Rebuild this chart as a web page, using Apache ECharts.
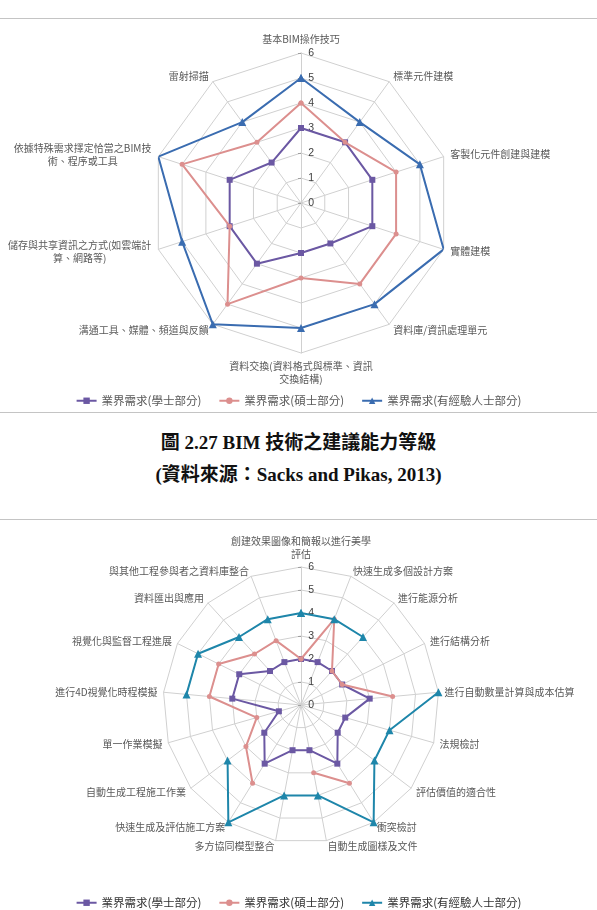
<!DOCTYPE html>
<html>
<head>
<meta charset="utf-8">
<title>BIM 技術之建議能力等級</title>
<script src="https://cdn.jsdelivr.net/npm/echarts@6/dist/echarts.min.js"></script>
<style>
    body { margin: 0; background: #fff; }
    #page { position: relative; width: 597px; height: 910px; overflow: hidden; }
    .rule { position: absolute; left: 0; width: 597px; height: 0; border-top: 1.5px solid #c4c4c4; }
    .chart { position: absolute; left: 0; width: 597px; }
    .cap {
        position: absolute; left: 0; width: 597px; text-align: center;
        font-family: "Liberation Serif", "Noto Sans CJK TC", serif;
        font-weight: bold; font-size: 19px; line-height: 24px; color: #111;
    }
</style>
</head>
<body>
<div id="page">
    <div class="rule" style="top:18px"></div>
    <div id="chart1" class="chart" style="top:19px;height:393px"></div>
    <div class="rule" style="top:412px"></div>
    <div class="cap" style="top:431px">圖 2.27 BIM 技術之建議能力等級</div>
    <div class="cap" style="top:463px">(資料來源：Sacks and Pikas, 2013)</div>
    <div class="rule" style="top:519px"></div>
    <div id="chart2" class="chart" style="top:520px;height:390px"></div>
</div>
<script>
    // 圖一：BIM 技術 (10 項)
    const labels1 = [
        '基本BIM操作技巧',
        '標準元件建模',
        '客製化元件創建與建模',
        '實體建模',
        '資料庫/資訊處理單元',
        '資料交換(資料格式與標準、資訊\n交換結構)',
        '溝通工具、媒體、頻道與反饋',
        '儲存與共享資訊之方式(如雲端計\n算、網路等)',
        '依據特殊需求擇定恰當之BIM技\n術、程序或工具',
        '雷射掃描'
    ];
    const bachelor1 = [3, 3, 3, 3, 2, 2, 3, 3, 3, 2];
    const master1 = [4, 3, 4, 4, 4, 3, 5, 3, 5, 3];
    const senior1 = [5, 4, 5, 6, 5, 5, 6, 5, 6, 4];

    // 圖二：BIM 應用 (17 項), null = 空白
    const labels2 = [
        '創建效果圖像和簡報以進行美學\n評估',
        '快速生成多個設計方案',
        '進行能源分析',
        '進行結構分析',
        '進行自動數量計算與成本估算',
        '法規檢討',
        '評估價值的適合性',
        '衝突檢討',
        '自動生成圖樣及文件',
        '多方協同模型整合',
        '快速生成及評估施工方案',
        '自動生成工程施工作業',
        '單一作業模擬',
        '進行4D視覺化時程模擬',
        '視覺化與監督工程進展',
        '資料匯出與應用',
        '與其他工程參與者之資料庫整合'
    ];
    const bachelor2 = [2, 2, 2, 2, 3, 2, 2, 3, 2, 2, 3, 2, 1, 3, 3, 2, 2];
    const master2 = [2, 4, 2, 2, 4, null, null, 4, 3, null, 4, 3, 2, 4, 4, 3, 3];
    const senior2 = [4, 4, 4, null, 6, 4, 4, 6, 4, 4, 6, 4, null, 5, 5, 4, 4];

    const seriesNames = ['業界需求(學士部分)', '業界需求(碩士部分)', '業界需求(有經驗人士部分)'];
    const maxValue = 6;

    const cjk = '"Noto Sans CJK TC", "Noto Sans CJK SC", sans-serif';
    const measure = document.createElement('canvas').getContext('2d');
    measure.font = '10px ' + cjk;

    // 多行標籤置中對齊
    function lineWidth(name) {
        return Math.ceil(Math.max.apply(null, name.split('\n').map(s => measure.measureText(s).width)));
    }
    function axisNameStyle(labels) {
        const rich = {};
        labels.forEach(l => {
            if (l.indexOf('\n') < 0) return;
            const w = lineWidth(l);
            rich['w' + w] = { width: w, align: 'center', fontSize: 10, lineHeight: 13, color: '#595959', fontFamily: cjk };
        });
        return {
            color: '#595959',
            fontSize: 10,
            lineHeight: 13,
            fontFamily: cjk,
            rich: rich,
            formatter: function (name) {
                if (name.indexOf('\n') < 0) return name;
                const w = lineWidth(name);
                return name.split('\n').map(s => '{w' + w + '|' + s + '}').join('\n');
            }
        };
    }

    function buildOption(labels, data, cfg) {
        const n = labels.length;
        // echarts 雷達是逆時針排列, 所以反轉順序
        const order = [0].concat(labels.map((_, i) => n - 1 - i).slice(0, n - 1));
        const indicator = order.map(k => {
            const ind = { name: labels[k], min: 0, max: maxValue };
            if (k === 0) {
                // 刻度數字放在軸的左邊
                ind.axisLabel = {
                    show: true, color: '#404040', fontSize: 10.5, margin: -13,
                    fontFamily: 'Liberation Sans, Arial, sans-serif'
                };
                ind.axisTick = { show: true, length: 3, lineStyle: { color: '#a0a0a0' } };
            }
            return ind;
        });
        const symbols = ['rect', 'circle', 'triangle'];
        const sizes = [6, 5, 8];
        const series = data.map((vals, s) => ({
            name: seriesNames[s],
            type: 'line',
            coordinateSystem: 'polar',
            data: vals.map((v, k) => [v == null ? '-' : v, k]).concat([[vals[0], n]]),
            symbol: symbols[s],
            symbolSize: sizes[s],
            showAllSymbol: true,
            connectNulls: false,
            lineStyle: { color: cfg.colors[s], width: 2 },
            itemStyle: { color: cfg.colors[s] },
            z: 3 + s
        }));
        return {
            animation: false,
            radar: {
                center: cfg.center,
                radius: cfg.radius,
                startAngle: 90,
                shape: 'polygon',
                splitNumber: maxValue,
                nameGap: cfg.nameGap,
                indicator: indicator,
                axisName: axisNameStyle(labels),
                axisLabel: { show: false },
                axisTick: { show: false },
                axisLine: { lineStyle: { color: '#d0d0d0', width: 1 } },
                splitLine: { lineStyle: { color: '#d0d0d0', width: 1 } },
                splitArea: { show: false }
            },
            polar: { center: cfg.center, radius: cfg.radius },
            angleAxis: { type: 'value', min: 0, max: n, startAngle: 90, clockwise: true, show: false },
            radiusAxis: { type: 'value', min: 0, max: maxValue, show: false },
            legend: {
                data: seriesNames,
                top: cfg.legendTop,
                left: 'center',
                itemWidth: 20,
                itemHeight: 8,
                itemGap: 17,
                textStyle: { color: cfg.legendColor, fontSize: 11.5, fontFamily: cjk }
            },
            series: series
        };
    }

    const chart1 = echarts.init(document.getElementById('chart1'));
    chart1.setOption(buildOption(labels1, [bachelor1, master1, senior1], {
        center: [301, 184], radius: 150, nameGap: 7, legendTop: 371,
        colors: ['#6b58a3', '#dc8f8e', '#3a6cb0'], legendColor: '#595959'
    }));

    const chart2 = echarts.init(document.getElementById('chart2'));
    chart2.setOption(buildOption(labels2, [bachelor2, master2, senior2], {
        center: [301, 185], radius: 138, nameGap: 6, legendTop: 372,
        colors: ['#6b58a3', '#dc8f8e', '#1e86aa'], legendColor: '#333333'
    }));
</script>
</body>
</html>
